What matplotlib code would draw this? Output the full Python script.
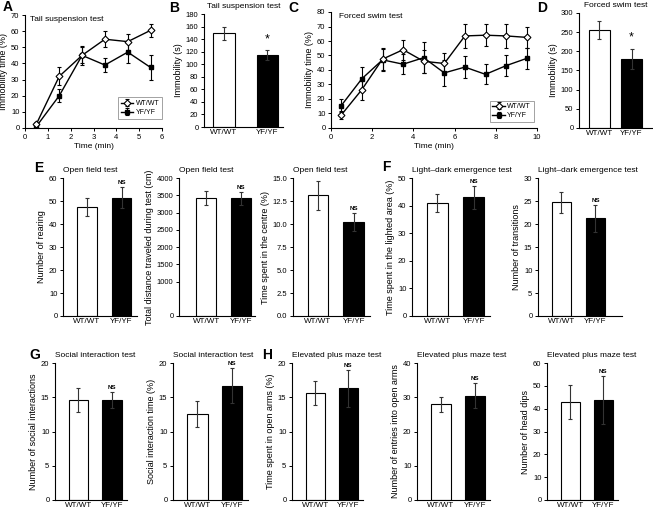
import matplotlib.pyplot as plt

plt.rcParams['font.family'] = ['Liberation Sans', 'DejaVu Sans']

W, H = 653, 515
genotypes = ['WT/WT', 'YF/YF']

# A: tail suspension time course
tst_time = [0.5, 1.5, 2.5, 3.5, 4.5, 5.5]
tst_wt = [2.5, 32, 45, 55, 53.5, 60.5]
tst_wt_err = [1, 5.5, 6, 5, 5, 4]
tst_yf = [1, 20, 45, 39, 47, 37.5]
tst_yf_err = [0.5, 4, 5, 4.5, 7, 7.5]

# B: tail suspension total
tst_total = [149, 114]
tst_total_err = [10, 8]

# C: forced swim time course
fst_time = [0.5, 1.5, 2.5, 3.5, 4.5, 5.5, 6.5, 7.5, 8.5, 9.5]
fst_wt = [9, 26.5, 47.5, 54, 46, 44.5, 63.5, 64, 63.5, 62.5]
fst_wt_err = [3, 7, 7.5, 7, 8, 7.5, 8.5, 7.5, 8, 7]
fst_yf = [15.5, 34, 47, 44, 48.5, 38, 42, 37, 43, 48]
fst_yf_err = [4.5, 8, 7.5, 7, 10.5, 9, 7.5, 7, 7, 7]

# D: forced swim total
fst_total = [255, 180]
fst_total_err = [23, 25]

# E: open field
rearing = [47.5, 51.5]
rearing_err = [4, 4.5]
distance = [3420, 3410]
distance_err = [210, 190]
centre = [13.1, 10.2]
centre_err = [1.6, 1.0]

# F: light-dark emergence
lighted = [41, 43]
lighted_err = [3.2, 4.2]
transitions = [24.7, 21.2]
transitions_err = [2.3, 3.0]

# G: social interaction
social_n = [14.6, 14.6]
social_n_err = [1.7, 1.1]
social_time = [12.6, 16.7]
social_time_err = [1.9, 2.6]

# H: elevated plus maze
open_time = [15.6, 16.3]
open_time_err = [1.7, 2.7]
open_entries = [28, 30.5]
open_entries_err = [2.2, 3.7]
head_dips = [43, 43.7]
head_dips_err = [7.5, 10.5]

fig = plt.figure(figsize=(W / 100, H / 100), dpi=100)


def rect(l, t, r, b):
    return [l / W, 1 - b / H, (r - l) / W, (b - t) / H]


def style(ax):
    ax.spines['top'].set_visible(False)
    ax.spines['right'].set_visible(False)
    for s in ['left', 'bottom']:
        ax.spines[s].set_linewidth(0.8)
    ax.tick_params(axis='y', length=2, width=0.7, pad=2, labelsize=5.5)


def bar_panel(box, vals, errs, ymax, yticks, ylabel, title, mark='NS',
              xlim=(-0.7, 1.45), width=0.58, title_loc='left'):
    ax = fig.add_axes(rect(*box))
    x = [0, 1]
    ax.bar(x, vals, width=width, color=['white', 'black'], edgecolor='black',
           linewidth=0.8, zorder=2)
    ax.errorbar(x, vals, yerr=errs, fmt='none', ecolor='#333333',
                elinewidth=0.8, capsize=1.5, capthick=0.8, zorder=3)
    ax.set_xlim(*xlim)
    ax.set_ylim(0, ymax)
    ax.set_yticks(yticks)
    ax.set_xticks(x)
    ax.set_xticklabels(genotypes)
    style(ax)
    ax.tick_params(axis='x', length=0, pad=1.5, labelsize=5.8)
    ax.set_ylabel(ylabel, fontsize=6.5, labelpad=2)
    ax.set_title(title, fontsize=6, loc=title_loc, pad=4)
    top = vals[1] + errs[1]
    if mark == '*':
        ax.text(1, top + ymax * 0.1, '*', ha='center', va='center', fontsize=9)
    else:
        ax.text(1, top + ymax * 0.015, mark, ha='center', va='bottom',
                fontsize=4.5, fontweight='bold')
    return ax


def line_panel(box, t, wt, wt_err, yf, yf_err, xmax, xticks, ymax, title, leg_box):
    ax = fig.add_axes(rect(*box))
    ax.errorbar(t, wt, yerr=wt_err, color='black', marker='D', ms=3.5,
                mfc='white', mec='black', mew=0.8, lw=1, elinewidth=0.8,
                capsize=1.5, capthick=0.8, label='WT/WT', zorder=3)
    ax.errorbar(t, yf, yerr=yf_err, color='black', marker='s', ms=3.5,
                mfc='black', lw=1, elinewidth=0.8, capsize=1.5,
                capthick=0.8, label='YF/YF', zorder=2)
    ax.set_xlim(0, xmax)
    ax.set_ylim(0, ymax)
    ax.set_xticks(xticks)
    ax.set_yticks(range(0, ymax + 1, 10))
    style(ax)
    ax.tick_params(axis='x', length=2, width=0.7, pad=2, labelsize=5.5)
    ax.set_ylabel('Immobility time (%)', fontsize=6.5, labelpad=2)
    ax.set_xlabel('Time (min)', fontsize=6, labelpad=2)
    ax.text(0.04, 0.99, title, transform=ax.transAxes, fontsize=6,
            ha='left', va='top')
    leg = ax.legend(loc='lower left', bbox_to_anchor=leg_box, fontsize=5,
                    frameon=True, fancybox=False, edgecolor='#777777',
                    handlelength=1.8, borderpad=0.4, labelspacing=0.3,
                    handletextpad=0.3, borderaxespad=0)
    leg.get_frame().set_linewidth(0.6)
    return ax


def letter(x, y, s):
    fig.text(x / W, 1 - y / H, s, fontsize=10, fontweight='bold',
             ha='left', va='center')


# row 1
line_panel((25, 15, 162, 128), tst_time, tst_wt, tst_wt_err, tst_yf, tst_yf_err,
           6, range(0, 7), 70, 'Tail suspension test', (0.68, 0.08))
bar_panel((204, 14, 283, 127), tst_total, tst_total_err, 180, range(0, 181, 20),
          'Immobility (s)', 'Tail suspension test', mark='*',
          xlim=(-0.46, 1.36), width=0.5, title_loc='center')
line_panel((331, 12, 537, 128), fst_time, fst_wt, fst_wt_err, fst_yf, fst_yf_err,
           10, range(0, 11, 2), 80, 'Forced swim test', (0.77, 0.05))
bar_panel((579, 13, 652, 128), fst_total, fst_total_err, 300, range(0, 301, 50),
          'Immobility (s)', 'Forced swim test', mark='*',
          xlim=(-0.64, 1.64), width=0.66, title_loc='center')

# row 2
bar_panel((63, 178, 137, 316), rearing, rearing_err, 60, range(0, 61, 10),
          'Number of rearing', 'Open field test')
bar_panel((179, 178, 255, 316), distance, distance_err, 4000,
          [0, 1000, 1500, 2000, 2500, 3000, 3500, 4000],
          'Total distance traveled during test (cm)', 'Open field test',
          xlim=(-0.79, 1.4))
bar_panel((293, 178, 370, 316), centre, centre_err, 15,
          [0, 2.5, 5, 7.5, 10, 12.5, 15],
          'Time spent in the centre (%)', 'Open field test')
bar_panel((412, 178, 490, 316), lighted, lighted_err, 50, range(0, 51, 10),
          'Time spent in the lighted area (%)', 'Light\u2013dark emergence test')
bar_panel((538, 178, 622, 316), transitions, transitions_err, 30, range(0, 31, 5),
          'Number of transitions', 'Light\u2013dark emergence test',
          xlim=(-0.69, 1.78))

# row 3
bar_panel((55, 363, 127, 500), social_n, social_n_err, 20, range(0, 21, 5),
          'Number of social interactions', 'Social interaction test')
bar_panel((173, 363, 248, 500), social_time, social_time_err, 20, range(0, 21, 5),
          'Social interaction time (%)', 'Social interaction test')
bar_panel((292, 363, 363, 500), open_time, open_time_err, 20, range(0, 21, 5),
          'Time spent in open arms (%)', 'Elevated plus maze test')
bar_panel((417, 363, 490, 500), open_entries, open_entries_err, 40, range(0, 41, 10),
          'Number of entries into open arms', 'Elevated plus maze test')
bar_panel((547, 363, 618, 500), head_dips, head_dips_err, 60, range(0, 61, 10),
          'Number of head dips', 'Elevated plus maze test')

letter(3, 7, 'A')
letter(169, 8, 'B')
letter(288, 8, 'C')
letter(537, 8, 'D')
letter(34, 168, 'E')
letter(382, 167, 'F')
letter(29, 355, 'G')
letter(262, 355, 'H')

fig.savefig('out.png', dpi=100)
